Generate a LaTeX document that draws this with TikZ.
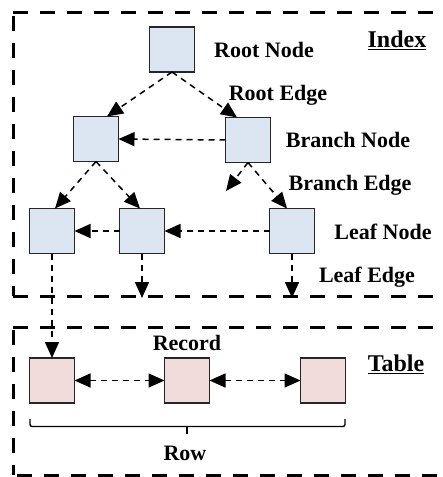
\documentclass[tikz,border=0pt]{standalone}
\usepackage{fontspec}
\setmainfont{Liberation Serif}
\usetikzlibrary{arrows.meta,calc}
\definecolor{idxfill}{HTML}{DCE6F2}
\definecolor{recfill}{HTML}{F2DCDB}
\tikzset{
  box/.style={draw=black!85, line width=1.4pt, minimum size=45pt, inner sep=0pt, outer sep=0pt},
  idx/.style={box, fill=idxfill},
  rec/.style={box, fill=recfill},
  tip/.style={},
  conn/.style={line width=1.5pt, dash pattern=on 6pt off 5pt, -{Triangle[length=16pt,width=14pt]}},
  biconn/.style={line width=1.5pt, dash pattern=on 6pt off 5pt, {Triangle[length=16pt,width=14pt]}-{Triangle[length=16pt,width=14pt]}},
  frame/.style={line width=3pt, dash pattern=on 15pt off 12pt},
  lbl/.style={font=\fontsize{22}{25}\selectfont\bfseries, inner sep=0pt},
  title/.style={font=\fontsize{24}{27}\selectfont\bfseries, inner sep=0pt}
}
\begin{document}
\begin{tikzpicture}[x=1pt,y=-1pt]
\useasboundingbox (0,0) rectangle (443,477);
\clip (0,0) rectangle (443,477);
% frames
\draw[frame] (13,12.5) -- (470,12.5);
\draw[frame] (13,16) -- (13,296);
\draw[frame] (13,296) -- (470,296);
\draw[frame] (13,327) -- (470,327);
\draw[frame] (13,330) -- (13,475);
\draw[frame] (17,475) -- (470,475);
% nodes
\node[idx] (root) at (172,49.5) {};
\node[idx] (bl) at (96,139) {};
\node[idx] (br) at (248,140) {};
\node[idx] (l1) at (52,231) {};
\node[idx] (l2) at (142,231) {};
\node[idx] (l3) at (292,231) {};
\node[rec] (r1) at (52,380.5) {};
\node[rec] (r2) at (187,380.5) {};
\node[rec] (r3) at (323,380.5) {};
% free ends
\coordinate (dang) at (226,191);
\coordinate (e2) at (142,298);
\coordinate (e3) at (292,298);
% connectors
\draw[conn] (root.south) -- ([xshift=11pt]bl.north);
\draw[conn] (root.south) -- ([xshift=-11pt]br.north);
\draw[conn] (br.west) -- (bl.east);
\draw[conn] (bl.south) -- ([xshift=3pt]l1.north);
\draw[conn] (bl.south) -- ([xshift=-2pt]l2.north);
\draw[conn] (br.south) -- (dang);
\draw[conn] (br.south) -- ([xshift=-5pt]l3.north);
\draw[conn] (l3.west) -- (l2.east);
\draw[conn] (l2.west) -- (l1.east);
\draw[conn] (l1.south) -- (r1.north);
\draw[conn] (l2.south) -- (e2);
\draw[conn] (l3.south) -- (e3);
\draw[biconn] (r1.east) -- (r2.west);
\draw[biconn] (r2.east) -- (r3.west);
% bracket under the row
\draw[line width=1.4pt, rounded corners=2pt] (30,419) -- (30,426.5) -- (345,426.5) -- (345,419);
\draw[line width=2.5pt] (187,426.5) -- (187,434);
% labels
\node[lbl] (tRootNode) at (264,50) {Root Node};
\node[title] (tIndex) at (397,40) {\underline{Index}};
\node[lbl] (tRootEdge) at (278,95) {Root Edge};
\node[lbl] (tBranchNode) at (348,140) {Branch Node};
\node[lbl] (tBranchEdge) at (350,185) {Branch Edge};
\node[lbl] (tLeafNode) at (383,232) {Leaf Node};
\node[lbl] (tLeafEdge) at (367,277) {Leaf Edge};
\node[lbl] (tRecord) at (187,343) {Record};
\node[title] (tTable) at (396,364) {\underline{Table}};
\node[lbl] (tRow) at (185,453) {Row};
\end{tikzpicture}
\end{document}
